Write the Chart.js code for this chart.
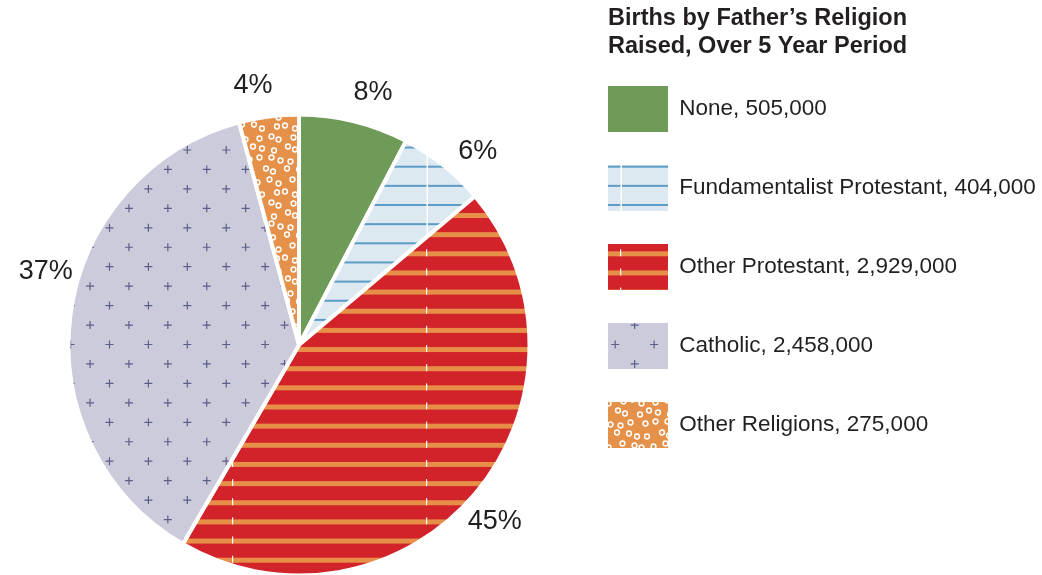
<!DOCTYPE html>
<html><head><meta charset="utf-8">
<script src="https://cdn.jsdelivr.net/npm/chart.js@4.4.1/dist/chart.umd.min.js"></script>
<style>html,body{margin:0;padding:0;background:#fff;}#wrap{width:1042px;height:575px;position:relative;}canvas{display:block;}</style>
</head><body><div id="wrap"><canvas id="c" width="1042" height="575" style="width:1042px;height:575px;"></canvas></div>
<script>
// ---- data ----
const categories = ['None', 'Fundamentalist Protestant', 'Other Protestant', 'Catholic', 'Other Religions'];
const births = [505000, 404000, 2929000, 2458000, 275000];
const chartTitle = ['Births by Father\u2019s Religion', 'Raised, Over 5 Year Period'];

// ---- patterns ----
function tile(w, h, draw) {
  const c = document.createElement('canvas'); c.width = w; c.height = h;
  const g = c.getContext('2d'); draw(g, w, h);
  return g.createPattern(c, 'repeat');
}
const TXT = '#231f20';
const FONT = '"Liberation Sans", Arial, sans-serif';
const greenFill = '#6f9b58';
const blueFill = tile(194, 383, (g, w, h) => {
  g.fillStyle = '#dde9f1'; g.fillRect(0, 0, w, h);
  g.fillStyle = '#5b9cc7';
  for (let k = -1; k <= 20; k++) { const y = 13.5 + 19.15 * k; g.fillRect(0, y - 1, w, 2); }
  g.fillStyle = '#ffffff'; g.fillRect(38.5, 0, 1.5, h);
});
const redFill = tile(194, 383, (g, w, h) => {
  g.fillStyle = '#d2232a'; g.fillRect(0, 0, w, h);
  for (let k = -1; k <= 20; k++) {
    const y = 4.85 + 19.15 * k;
    g.fillStyle = '#e78f48'; g.fillRect(0, y - 2.5, w, 5);
    g.fillStyle = '#ffffff'; g.fillRect(38, y - 4.5, 1.2, 7);
  }
});
const catholicFill = tile(389, 389, (g, w, h) => {
  g.fillStyle = '#cccbdc'; g.fillRect(0, 0, w, h);
  g.strokeStyle = '#5b5f87'; g.lineWidth = 1.2;
  for (let i = -12; i <= 12; i++) for (let j = -12; j <= 12; j++) {
    if (((i + j) % 2 + 2) % 2 !== 0) continue;
    const x = 187.3 + 19.45 * i, y = 150 + 19.45 * j;
    if (x < -10 || x > w + 10 || y < -10 || y > h + 10) continue;
    g.beginPath(); g.moveTo(x - 4, y); g.lineTo(x + 4, y); g.moveTo(x, y - 4); g.lineTo(x, y + 4); g.stroke();
  }
});
const otherFill = tile(66, 66, (g, w, h) => {
  g.fillStyle = '#e5914a'; g.fillRect(0, 0, w, h);
  const ox = [2,-2,2,0,-2,1,-1,2,-2,2,0,-2,2,0,-1,-2,2,1,-2,1,2,-1,-2,2,0,-2,1,2,-2,-1,2,-1,-2,0,1,-2];
  const oy = [-1,2,0,-2,2,1,2,-2,1,2,-2,0,-2,1,2,-1,0,-2,1,-2,-1,2,2,-2,-2,2,-2,0,2,1,0,-1,2,-2,-2,2];
  g.strokeStyle = '#ffffff'; g.lineWidth = 1.5;
  for (let r = 0; r < 6; r++) for (let c = 0; c < 6; c++) {
    const n = r * 6 + c, x = 5.5 + 11 * c + (r % 2) * 5.5 + ox[n], y = 5.5 + 11 * r + oy[n];
    for (const dx of [-w, 0, w]) for (const dy of [-h, 0, h]) {
      g.beginPath(); g.arc(x + dx, y + dy, 2.4, 0, Math.PI * 2); g.stroke();
    }
  }
});
const sliceFills = [greenFill, blueFill, redFill, catholicFill, otherFill];

// ---- plugins ----
const pieBox = {
  id: 'pieBox',
  afterLayout(chart) {
    const cx = 299, cy = 345, half = 230;
    chart.chartArea = { left: cx - half, right: cx + half, top: cy - half, bottom: cy + half, width: 2 * half, height: 2 * half };
  }
};
const labelAngleShiftDeg = [2.5, 4, 2, 8.5, -2.5];
const pctLabels = {
  id: 'pctLabels',
  afterDatasetsDraw(chart) {
    const ctx = chart.ctx, meta = chart.getDatasetMeta(0);
    const vals = chart.data.datasets[0].data, total = vals.reduce((a, b) => a + b, 0);
    ctx.save();
    ctx.font = '27px ' + FONT;
    ctx.fillStyle = TXT; ctx.textAlign = 'center'; ctx.textBaseline = 'middle';
    meta.data.forEach((arc, i) => {
      const p = arc.getProps(['x', 'y', 'startAngle', 'endAngle', 'outerRadius'], true);
      const mid = (p.startAngle + p.endAngle) / 2 + labelAngleShiftDeg[i] * Math.PI / 180;
      const d = p.outerRadius + 33;
      ctx.fillText(Math.round(vals[i] / total * 100) + '%', p.x + Math.cos(mid) * d, p.y + Math.sin(mid) * d);
    });
    ctx.restore();
  }
};
const legendHeading = {
  id: 'legendHeading',
  afterDraw(chart) {
    const lg = chart.legend, ctx = chart.ctx;
    const x = lg.left + lg.options.labels.padding;
    ctx.save();
    ctx.font = 'bold 23.5px ' + FONT;
    ctx.fillStyle = TXT; ctx.textAlign = 'left'; ctx.textBaseline = 'middle';
    chartTitle.forEach((t, i) => ctx.fillText(t, x, 19 + i * 28));
    ctx.restore();
  }
};

new Chart(document.getElementById('c'), {
  type: 'pie',
  data: {
    labels: categories,
    datasets: [{
      data: births,
      backgroundColor: sliceFills,
      borderColor: '#ffffff',
      borderWidth: 4,
      hoverOffset: 0,
      radius: 230.5
    }]
  },
  options: {
    responsive: false,
    animation: false,
    devicePixelRatio: 1,
    layout: { padding: { top: 53, right: 7, bottom: 0, left: 0 } },
    plugins: {
      tooltip: { enabled: false },
      legend: {
        position: 'right',
        align: 'start',
        maxWidth: 460,
        labels: {
          boxWidth: 60, boxHeight: 46, padding: 33,
          color: TXT,
          font: { family: FONT, size: 22.5 },
          generateLabels(chart) {
            const ds = chart.data.datasets[0];
            return chart.data.labels.map((l, i) => ({
              text: l + ', ' + ds.data[i].toLocaleString('en-US'),
              fillStyle: ds.backgroundColor[i],
              strokeStyle: 'rgba(0,0,0,0)', lineWidth: 0,
              fontColor: TXT, hidden: false, index: i
            }));
          }
        }
      }
    }
  },
  plugins: [pieBox, pctLabels, legendHeading]
});
</script>
</body></html>
